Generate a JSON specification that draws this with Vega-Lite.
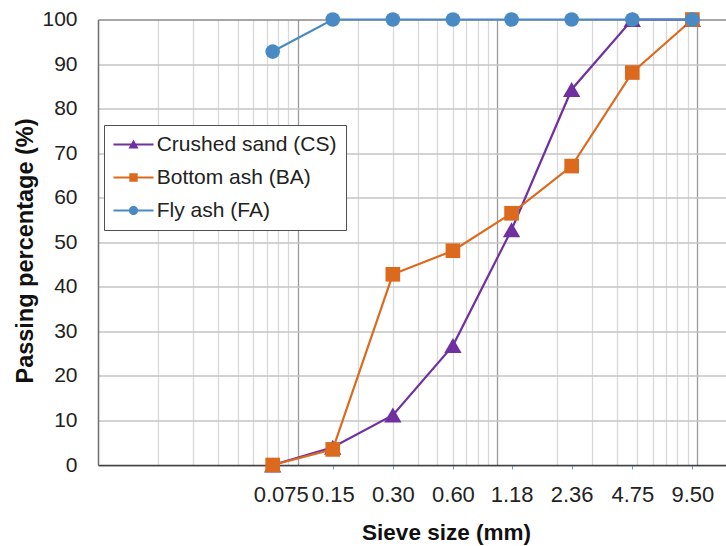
{
  "$schema": "https://vega.github.io/schema/vega-lite/v6.json",
  "width": 628,
  "height": 445.5,
  "autosize": {"type": "none"},
  "padding": {"left": 98, "top": 19.5, "right": 0, "bottom": 81},
  "background": "white",
  "config": {"view": {"stroke": null}, "font": "Liberation Sans"},
  "data": {"values": [
    {"series": "Crushed sand (CS)", "size": 0.075, "pct": 0},
    {"series": "Crushed sand (CS)", "size": 0.15, "pct": 4},
    {"series": "Crushed sand (CS)", "size": 0.30, "pct": 11.2},
    {"series": "Crushed sand (CS)", "size": 0.60, "pct": 26.8},
    {"series": "Crushed sand (CS)", "size": 1.18, "pct": 52.8},
    {"series": "Crushed sand (CS)", "size": 2.36, "pct": 84.3},
    {"series": "Crushed sand (CS)", "size": 4.75, "pct": 100},
    {"series": "Crushed sand (CS)", "size": 9.50, "pct": 100},
    {"series": "Bottom ash (BA)", "size": 0.075, "pct": 0},
    {"series": "Bottom ash (BA)", "size": 0.15, "pct": 3.5},
    {"series": "Bottom ash (BA)", "size": 0.30, "pct": 42.8},
    {"series": "Bottom ash (BA)", "size": 0.60, "pct": 48.1},
    {"series": "Bottom ash (BA)", "size": 1.18, "pct": 56.5},
    {"series": "Bottom ash (BA)", "size": 2.36, "pct": 67.1},
    {"series": "Bottom ash (BA)", "size": 4.75, "pct": 88.1},
    {"series": "Bottom ash (BA)", "size": 9.50, "pct": 100},
    {"series": "Fly ash (FA)", "size": 0.075, "pct": 92.8},
    {"series": "Fly ash (FA)", "size": 0.15, "pct": 100},
    {"series": "Fly ash (FA)", "size": 0.30, "pct": 100},
    {"series": "Fly ash (FA)", "size": 0.60, "pct": 100},
    {"series": "Fly ash (FA)", "size": 1.18, "pct": 100},
    {"series": "Fly ash (FA)", "size": 2.36, "pct": 100},
    {"series": "Fly ash (FA)", "size": 4.75, "pct": 100},
    {"series": "Fly ash (FA)", "size": 9.50, "pct": 100}
  ]},
  "encoding": {
    "y": {"field": "pct", "type": "quantitative", "scale": {"domain": [0, 100], "nice": false}}
  },
  "layer": [
    {
      "transform": [{"filter": "datum.series === 'Crushed sand (CS)'"}],
      "mark": {"type": "line", "strokeWidth": 2.2, "color": "#7030A0"},
      "encoding": {
        "x": {
          "field": "size", "type": "quantitative",
          "scale": {"type": "log", "domain": [0.01, 14], "nice": false},
          "axis": {
            "orient": "bottom",
            "values": [0.02, 0.03, 0.04, 0.05, 0.06, 0.07, 0.08, 0.09, 0.1, 0.2, 0.3, 0.4, 0.5, 0.6, 0.7, 0.8, 0.9, 1, 2, 3, 4, 5, 6, 7, 8, 9, 10],
            "grid": true,
            "gridColor": {"condition": {"test": "datum.value == 0.1 || datum.value == 1 || datum.value == 10", "value": "#9a9a9a"}, "value": "#d9d9d9"},
            "gridWidth": 1.3,
            "labels": false, "ticks": false, "domain": false, "title": null
          }
        },
        "y": {
          "field": "pct", "type": "quantitative",
          "axis": {
            "values": [0, 10, 20, 30, 40, 50, 60, 70, 80, 90, 100],
            "grid": true,
            "gridColor": {"condition": {"test": "datum.value == 100", "value": "#8a8a8a"}, "value": "#c4c4c4"},
            "gridWidth": 1.3,
            "ticks": false, "tickSize": 0,
            "domain": true, "domainColor": "#6e6e6e", "domainWidth": 1.5,
            "labelFontSize": 21, "labelColor": "#222222", "labelPadding": 21,
            "title": "Passing percentage (%)",
            "titleFontSize": 23.5, "titleFontWeight": "bold", "titleColor": "#111111",
            "titleX": -66, "titleY": 231, "titleBaseline": "alphabetic", "titleAngle": -90, "titleAlign": "center"
          }
        }
      }
    },
    {
      "transform": [{"filter": "datum.series === 'Bottom ash (BA)'"}],
      "mark": {"type": "line", "strokeWidth": 2.2, "color": "#DC6A1E"},
      "encoding": {"x": {"field": "size", "type": "quantitative", "axis": null}}
    },
    {
      "transform": [{"filter": "datum.series === 'Fly ash (FA)'"}],
      "mark": {"type": "line", "strokeWidth": 2.2, "color": "#4A8AC4"},
      "encoding": {"x": {"field": "size", "type": "quantitative", "axis": null}}
    },
    {
      "transform": [{"filter": "datum.series === 'Crushed sand (CS)'"}],
      "mark": {"type": "point", "shape": "triangle-up", "filled": true, "opacity": 1, "size": 300, "color": "#7030A0", "strokeWidth": 0},
      "encoding": {
        "x": {
          "field": "size", "type": "quantitative",
          "axis": {
            "orient": "bottom",
            "values": [0.075, 0.15, 0.3, 0.6, 1.18, 2.36, 4.75, 9.5],
            "labelExpr": "datum.value == 0.075 ? '0.075' : format(datum.value, '.2f')",
            "grid": false,
            "labelFontSize": 22, "labelColor": "#222222",
            "labelOverlap": false, "labelFlush": false,
            "labelBaseline": "alphabetic", "labelPadding": 32.7,
            "labelOffset": {"condition": {"test": "datum.value == 0.075", "value": 8}, "value": 0},
            "ticks": true, "tickColor": "#6b93d6", "tickSize": 4, "tickWidth": 1,
            "domain": true, "domainColor": "#404040", "domainWidth": 1.5,
            "title": "Sieve size (mm)",
            "titleFontSize": 22.5, "titleFontWeight": "bold", "titleColor": "#111111",
            "titleX": 348, "titleY": 74.3, "titleBaseline": "alphabetic", "titleAlign": "center"
          }
        }
      }
    },
    {
      "transform": [{"filter": "datum.series === 'Bottom ash (BA)'"}],
      "mark": {"type": "point", "shape": "square", "filled": true, "opacity": 1, "size": 215, "color": "#DC6A1E", "strokeWidth": 0},
      "encoding": {"x": {"field": "size", "type": "quantitative", "axis": null}}
    },
    {
      "transform": [{"filter": "datum.series === 'Fly ash (FA)'"}],
      "mark": {"type": "point", "shape": "circle", "filled": true, "opacity": 1, "size": 215, "color": "#4A8AC4", "strokeWidth": 0},
      "encoding": {"x": {"field": "size", "type": "quantitative", "axis": null}}
    },
    {
      "transform": [{"filter": "datum.pct < 0"}],
      "mark": {"type": "point", "filled": true, "opacity": 1},
      "encoding": {
        "x": {"field": "size", "type": "quantitative", "axis": null},
        "color": {
          "field": "series", "type": "nominal",
          "scale": {"domain": ["Crushed sand (CS)", "Bottom ash (BA)", "Fly ash (FA)"], "range": ["#7030A0", "#DC6A1E", "#4A8AC4"]},
          "legend": {
            "orient": "none", "legendX": 6, "legendY": 105.5,
            "title": null, "direction": "vertical",
            "padding": 9, "strokeColor": "#505050", "fillColor": "white",
            "labelFontSize": 21, "labelFont": "Liberation Sans", "labelColor": "#222222", "labelLimit": 400,
            "symbolSize": 400, "symbolOpacity": 1, "symbolStrokeWidth": 0,
            "labelOffset": 22.7, "rowPadding": 11
          }
        },
        "shape": {
          "field": "series", "type": "nominal",
          "scale": {
            "domain": ["Crushed sand (CS)", "Bottom ash (BA)", "Fly ash (FA)"],
            "range": [
              "M-1,-0.11H3V0.11H-1ZM1,-0.5L1.5,0.4H0.5Z",
              "M-1,-0.11H3V0.11H-1ZM0.58,-0.42H1.42V0.42H0.58Z",
              "M-1,-0.11H3V0.11H-1ZM0.54,0A0.46,0.46,0,1,1,1.46,0A0.46,0.46,0,1,1,0.54,0Z"
            ]
          }
        }
      }
    }
  ],
  "resolve": {"axis": {"x": "independent"}}
}
